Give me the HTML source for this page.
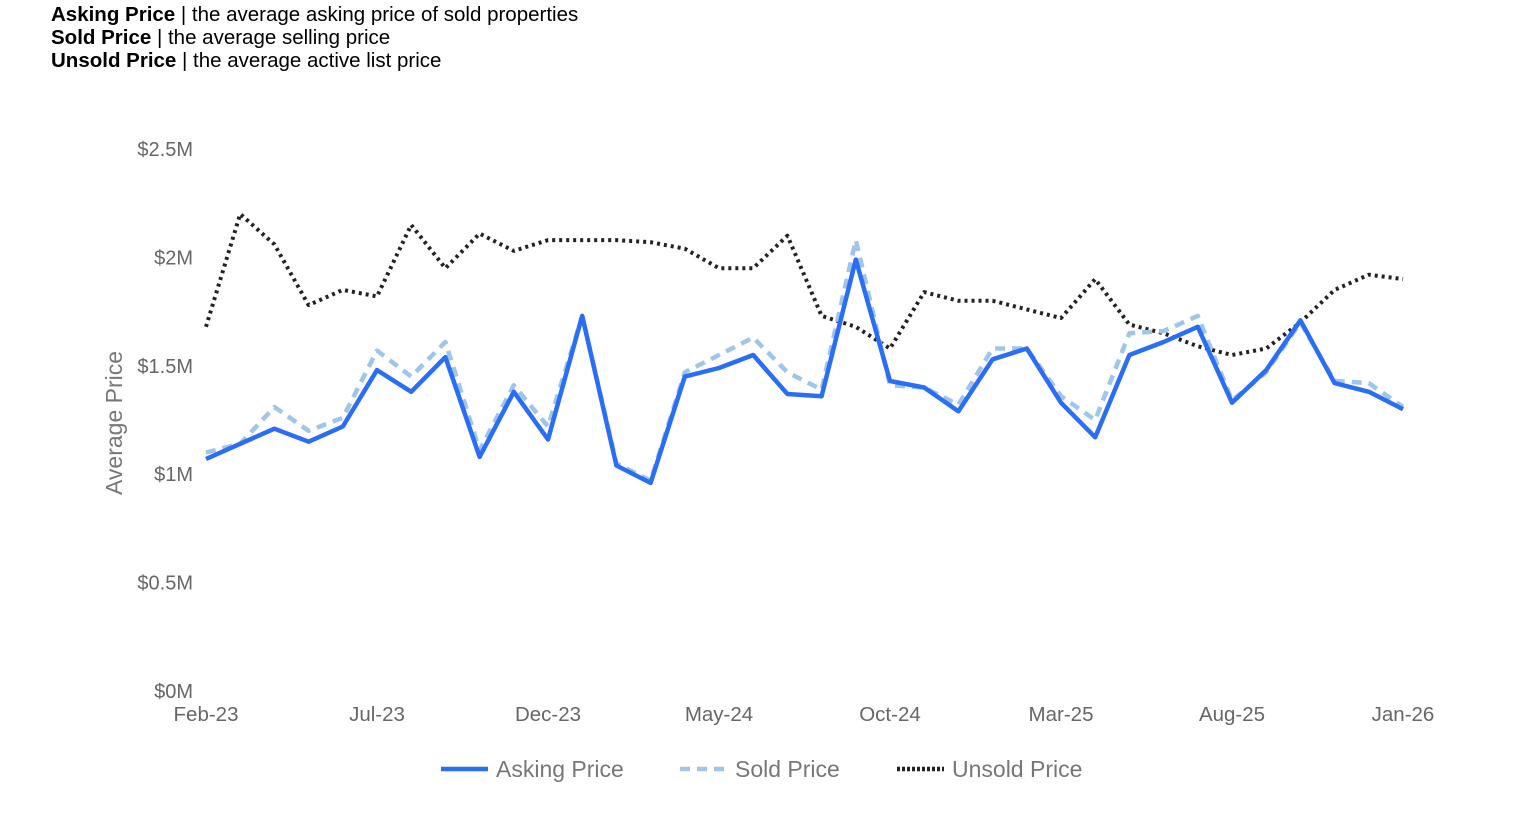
<!DOCTYPE html>
<html><head><meta charset="utf-8"><style>
body{margin:0;background:#fff;width:1517px;height:838px;overflow:hidden;font-family:"Liberation Sans",Arial,sans-serif}
.desc{position:absolute;left:51px;font-size:20.5px;color:#000;line-height:23px;white-space:nowrap}
.desc b{font-weight:bold}
svg{position:absolute;left:0;top:0}
</style></head><body>
<div class="desc" style="top:3px"><b>Asking Price</b> | the average asking price of sold properties</div>
<div class="desc" style="top:26px"><b>Sold Price</b> | the average selling price</div>
<div class="desc" style="top:49px"><b>Unsold Price</b> | the average active list price</div>
<svg id="chart" width="1517" height="838"></svg>
<script>
const months=["Feb-23","Mar-23","Apr-23","May-23","Jun-23","Jul-23","Aug-23","Sep-23","Oct-23","Nov-23","Dec-23","Jan-24","Feb-24","Mar-24","Apr-24","May-24","Jun-24","Jul-24","Aug-24","Sep-24","Oct-24","Nov-24","Dec-24","Jan-25","Feb-25","Mar-25","Apr-25","May-25","Jun-25","Jul-25","Aug-25","Sep-25","Oct-25","Nov-25","Dec-25","Jan-26"];
const asking=[1.07,1.14,1.21,1.15,1.22,1.48,1.38,1.54,1.08,1.38,1.16,1.73,1.04,0.96,1.45,1.49,1.55,1.37,1.36,1.99,1.43,1.40,1.29,1.53,1.58,1.33,1.17,1.55,1.61,1.68,1.33,1.48,1.71,1.42,1.38,1.30];
const sold=[1.10,1.14,1.31,1.20,1.26,1.57,1.45,1.61,1.11,1.41,1.22,1.73,1.05,0.97,1.47,1.55,1.63,1.47,1.39,2.08,1.41,1.40,1.32,1.58,1.58,1.36,1.25,1.65,1.66,1.73,1.34,1.47,1.70,1.43,1.42,1.31];
const unsold=[1.68,2.20,2.06,1.78,1.85,1.82,2.15,1.95,2.11,2.03,2.08,2.08,2.08,2.07,2.04,1.95,1.95,2.10,1.73,1.68,1.58,1.84,1.80,1.80,1.76,1.72,1.90,1.69,1.65,1.59,1.55,1.58,1.70,1.85,1.92,1.90];
const yTicks=[0,0.5,1,1.5,2,2.5];
const yTickLabels=["$0M","$0.5M","$1M","$1.5M","$2M","$2.5M"];
const xTickIdx=[0,5,10,15,20,25,30,35];

const NS="http://www.w3.org/2000/svg";
const svg=document.getElementById('chart');
const x0=206,x1=1403,y0=691,y1=149;
const X=i=>x0+(x1-x0)*i/(months.length-1);
const Y=v=>y0-(y0-y1)*v/2.5;
function mk(tag,attrs,parent){const e=document.createElementNS(NS,tag);for(const k in attrs)e.setAttribute(k,attrs[k]);(parent||svg).appendChild(e);return e;}

yTicks.forEach((v,i)=>{
  const t=mk('text',{x:193,y:Y(v)+7,'text-anchor':'end','font-size':'20','fill':'#666','font-family':'Liberation Sans, Arial, sans-serif'});
  t.textContent=yTickLabels[i];
  
  
});
xTickIdx.forEach(i=>{
  const t=mk('text',{x:X(i),y:721,'text-anchor':'middle','font-size':'20.5','fill':'#666','font-family':'Liberation Sans, Arial, sans-serif'});
  t.textContent=months[i];
  
  
});
const yt=mk('text',{x:0,y:0,transform:'translate(122,423) rotate(-90)','text-anchor':'middle','font-size':'23','fill':'#777','font-family':'Liberation Sans, Arial, sans-serif'});
yt.textContent='Average Price';



function line(data,style,name){
  const d=data.map((v,i)=>(i?'L':'M')+X(i).toFixed(1)+','+Y(v).toFixed(1)).join(' ');
  const p=mk('path',Object.assign({d:d,fill:'none','stroke-linejoin':'round'},style));
  
  
}
line(unsold,{stroke:'#222',"stroke-width":4,"stroke-dasharray":'3,4'},'unsold-price-line');
line(sold,{stroke:'#9fc5e8',"stroke-width":4.5,"stroke-dasharray":'10,7'},'sold-price-line');
line(asking,{stroke:'#2a6ef5',"stroke-width":4.5},'asking-price-line');

const leg=[["Asking Price",441,{stroke:'#2a6ef5'}],["Sold Price",680,{stroke:'#9fc5e8',"stroke-dasharray":'10,7'}],["Unsold Price",897,{stroke:'#222',"stroke-dasharray":'3,2'}]];
leg.forEach(l=>{
  const g=mk('g',{});
  
  
  mk('line',Object.assign({x1:l[1],x2:l[1]+47,y1:769,y2:769,"stroke-width":4.5},l[2]),g);
  const t=mk('text',{x:l[1]+55,y:777,'font-size':'23','fill':'#777','font-family':'Liberation Sans, Arial, sans-serif'},g);
  t.textContent=l[0];
});
</script>
</body></html>
